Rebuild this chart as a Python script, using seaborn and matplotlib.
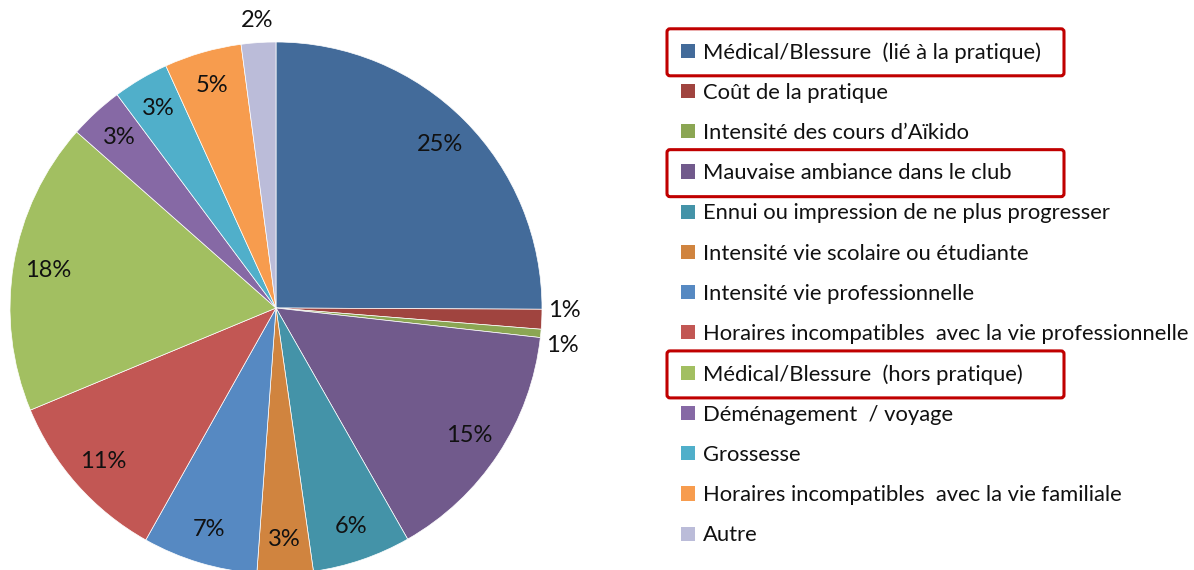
import matplotlib
matplotlib.use("Agg")
import matplotlib.pyplot as plt
import seaborn as sns
import numpy as np
from matplotlib.patches import Patch, FancyBboxPatch
from matplotlib.transforms import IdentityTransform

# ---------------- data ----------------
categories = [
    "Médical/Blessure  (lié à la pratique)",
    "Coût de la pratique",
    "Intensité des cours d\u2019Aïkido",
    "Mauvaise ambiance dans le club",
    "Ennui ou impression de ne plus progresser",
    "Intensité vie scolaire ou étudiante",
    "Intensité vie professionnelle",
    "Horaires incompatibles  avec la vie professionnelle",
    "Médical/Blessure  (hors pratique)",
    "Déménagement  / voyage",
    "Grossesse",
    "Horaires incompatibles  avec la vie familiale",
    "Autre",
]
values = [25.1, 1.2, 0.5, 15.0, 6.0, 3.4, 7.0, 10.6, 17.8, 3.3, 3.4, 4.7, 2.1]
pct_labels = ["25%", "1%", "1%", "15%", "6%", "3%", "7%", "11%", "18%", "3%", "3%", "5%", "2%"]
highlighted = [0, 3, 8]

colors = ["#436B9A", "#A0443F", "#8BA653", "#715A8C", "#4493A8", "#D0843F",
          "#5689C2", "#C25754", "#A2BF61", "#8669A5", "#50AFCA", "#F79C4E", "#BBBCD9"]

# ---------------- style ----------------
sns.set_theme(style="white")
plt.rcParams['font.family'] = ['Lato', 'DejaVu Sans']
FS = 15.8
FS_LAB = 17

W, H = 1194, 570
fig = plt.figure(figsize=(W / 100, H / 100), dpi=100)
fig.patch.set_facecolor("white")

cx, cy, R = 276, 308, 266
ax = fig.add_axes([(cx - R) / W, (H - cy - R) / H, 2 * R / W, 2 * R / H])
wedges, _ = ax.pie(values, colors=colors, startangle=90, counterclock=False, radius=1,
                   wedgeprops=dict(edgecolor="white", linewidth=0.5))
ax.set_xlim(-1, 1)
ax.set_ylim(-1, 1)
ax.set_aspect("equal")
ax.axis("off")

# data labels
angle_nudge = {1: 2.0, 2: -2.0}
for i, (w, lab) in enumerate(zip(wedges, pct_labels)):
    mid = (w.theta1 + w.theta2) / 2 + angle_nudge.get(i, 0.0)
    small = values[i] < 2.5
    r = 1.085 if small else 0.87
    x, y = r * np.cos(np.radians(mid)), r * np.sin(np.radians(mid))
    ax.text(x, y, lab, ha="center", va="center", fontsize=FS_LAB, color="#111111", clip_on=False)

# legend
handles = [Patch(facecolor=w.get_facecolor(), edgecolor="none") for w in wedges]
leg = fig.legend(handles, categories, loc="upper left",
                 bbox_to_anchor=(681 / W, 1 - 42 / H), frameon=False,
                 fontsize=FS, handlelength=0.62, handleheight=0.62,
                 handletextpad=0.4, labelspacing=0.92, borderpad=0, borderaxespad=0)
for t in leg.get_texts():
    t.set_color("#111111")

fig.canvas.draw()
texts = leg.get_texts()
for i in highlighted:
    bb = texts[i].get_window_extent()
    yc = (bb.y0 + bb.y1) / 2
    box = FancyBboxPatch((667, yc - 23.5), 397, 47, boxstyle="round,pad=0,rounding_size=3",
                         transform=IdentityTransform(), facecolor="none",
                         edgecolor="#C00000", linewidth=2.2, figure=fig)
    fig.patches.append(box)

fig.savefig("out.png", dpi=100, facecolor="white")
